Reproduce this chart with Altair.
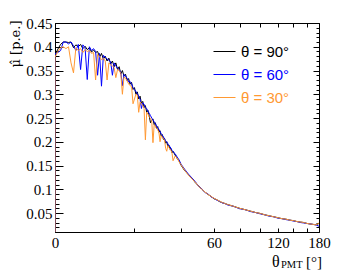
import altair as alt
import pandas as pd

# theta_PMT in degrees (first point: histogram left edge, drawn down to the axis)
theta_pmt = [0,
             0, 0.5, 1, 1.5, 2, 2.5, 3, 3.5,
             4, 4.5, 5, 5.5, 6, 6.5, 7, 7.5,
             8, 8.5, 9, 9.5, 10, 10.5, 11, 11.5,
             12, 12.5, 13, 13.5, 14, 14.5, 15, 15.5,
             16, 16.5, 17, 17.5, 18, 18.5, 19, 19.5,
             20, 20.5, 21, 21.5, 22, 22.5, 23, 23.5,
             24, 24.5, 25, 25.5, 26, 26.5, 27, 27.5,
             28, 28.5, 29, 29.5, 30, 30.5, 31, 31.5,
             32, 32.5, 33, 33.5, 34, 34.5, 35, 35.5,
             36,
             37, 38, 39, 40,
             42, 44, 46, 48, 50, 52, 54, 56, 58, 60, 62, 64, 66, 68, 70,
             75, 80, 85, 90, 95, 100, 105, 110, 115, 120, 125, 130, 135, 140, 145,
             150, 155, 160, 165, 170, 175, 180]

mu_90 = [0.0,
         0.382, 0.395, 0.405, 0.410, 0.410, 0.409, 0.410, 0.398,
         0.404, 0.400, 0.405, 0.396, 0.401, 0.394, 0.398, 0.389,
         0.393, 0.388, 0.390, 0.378, 0.386, 0.374, 0.380, 0.370,
         0.376, 0.364, 0.370, 0.358, 0.366, 0.352, 0.358, 0.343,
         0.350, 0.338, 0.342, 0.329, 0.333, 0.321, 0.325, 0.310,
         0.314, 0.300, 0.305, 0.290, 0.296, 0.281, 0.285, 0.272,
         0.276, 0.262, 0.266, 0.254, 0.240, 0.245, 0.248, 0.236,
         0.240, 0.228, 0.232, 0.220, 0.223, 0.212, 0.215, 0.205,
         0.207, 0.197, 0.200, 0.190, 0.193, 0.184, 0.186, 0.177,
         0.180,
         0.172, 0.165, 0.160, 0.151,
         0.139, 0.131, 0.123, 0.114, 0.107, 0.100, 0.094, 0.089, 0.085, 0.080, 0.078, 0.074,
         0.072, 0.070, 0.068,
         0.064, 0.060, 0.057, 0.054, 0.051, 0.049, 0.046, 0.044, 0.042, 0.040, 0.038, 0.037,
         0.035, 0.034, 0.032, 0.031, 0.030, 0.028, 0.027, 0.026, 0.025, 0.028]

mu_60 = [0.0,
         0.385, 0.388, 0.392, 0.410, 0.410, 0.406, 0.410, 0.402,
         0.392, 0.405, 0.352, 0.404, 0.398, 0.331, 0.400, 0.392,
         0.396, 0.390, 0.340, 0.386, 0.317, 0.382, 0.378, 0.374,
         0.372, 0.368, 0.340, 0.366, 0.360, 0.355, 0.352, 0.346,
         0.318, 0.342, 0.338, 0.334, 0.326, 0.327, 0.322, 0.314,
         0.310, 0.306, 0.301, 0.296, 0.290, 0.270, 0.282, 0.279,
         0.272, 0.270, 0.264, 0.260, 0.255, 0.250, 0.246, 0.242,
         0.238, 0.233, 0.229, 0.226, 0.222, 0.217, 0.214, 0.210,
         0.206, 0.202, 0.200, 0.196, 0.192, 0.190, 0.186, 0.182,
         0.179,
         0.175, 0.168, 0.162, 0.153,
         0.142, 0.132, 0.124, 0.116, 0.106, 0.101, 0.093, 0.090, 0.084, 0.081, 0.077, 0.075,
         0.071, 0.070, 0.067,
         0.064, 0.059, 0.057, 0.053, 0.051, 0.048, 0.046, 0.043, 0.042, 0.039, 0.038, 0.036,
         0.035, 0.033, 0.032, 0.030, 0.029, 0.028, 0.027, 0.026, 0.025, 0.022]

mu_30 = [0.0,
         0.378, 0.390, 0.398, 0.400, 0.396, 0.400, 0.366, 0.345,
         0.398, 0.392, 0.396, 0.388, 0.394, 0.390, 0.392, 0.386,
         0.388, 0.330, 0.384, 0.380, 0.372, 0.376, 0.370, 0.330,
         0.366, 0.362, 0.360, 0.356, 0.335, 0.352, 0.350, 0.344,
         0.300, 0.336, 0.334, 0.328, 0.322, 0.318, 0.316, 0.280,
         0.290, 0.300, 0.298, 0.262, 0.284, 0.280, 0.276, 0.270,
         0.204, 0.262, 0.258, 0.252, 0.250, 0.244, 0.198, 0.236,
         0.232, 0.228, 0.225, 0.220, 0.200, 0.213, 0.209, 0.206,
         0.204, 0.186, 0.180, 0.192, 0.188, 0.184, 0.182, 0.176,
         0.160,
         0.170, 0.166, 0.158, 0.152,
         0.140, 0.130, 0.122, 0.115, 0.106, 0.100, 0.094, 0.089, 0.085, 0.081, 0.078, 0.075,
         0.072, 0.070, 0.068,
         0.064, 0.060, 0.057, 0.054, 0.051, 0.049, 0.046, 0.044, 0.042, 0.040, 0.038, 0.037,
         0.035, 0.034, 0.032, 0.031, 0.030, 0.028, 0.027, 0.026, 0.025, 0.029]

series_names = ["θ = 90°", "θ = 60°", "θ = 30°"]
series_colors = ["#000000", "#0000ff", "#ff9933"]

x_ticks = [0, 20, 40, 60, 80, 100, 120, 140, 160, 180]
y_major = [0.05, 0.1, 0.15, 0.2, 0.25, 0.3, 0.35, 0.4, 0.45]
y_minor = [round(0.01 * k, 2) for k in range(1, 46)]

rows = []
for name, vals in zip(series_names, [mu_90, mu_60, mu_30]):
    assert len(vals) == len(theta_pmt), (name, len(vals), len(theta_pmt))
    for i, (t, m) in enumerate(zip(theta_pmt, vals)):
        rows.append({"theta": t, "mu": m, "series": name, "i": i})
df = pd.DataFrame(rows)

SERIF = "Liberation Serif"
SANS = "Liberation Sans"

xscale = alt.Scale(type="symlog", constant=20, domain=[0, 180], nice=False, zero=False)
yscale = alt.Scale(domain=[0.01, 0.45], nice=False, zero=False)

common_ax = dict(domain=False, grid=False, tickColor="black", tickWidth=1)

label_color_expr = ("datum.label == '" + series_names[0] + "' ? '" + series_colors[0] + "' : "
                    "datum.label == '" + series_names[1] + "' ? '" + series_colors[1] + "' : '"
                    + series_colors[2] + "'")

lines = alt.Chart(df).mark_line(strokeWidth=1, clip=True).encode(
    x=alt.X("theta:Q", scale=xscale,
            axis=alt.Axis(orient="bottom", offset=-4, tickSize=4, values=x_ticks,
                          labelExpr="datum.value % 60 == 0 ? datum.label : ''",
                          labelFont=SERIF, labelFontSize=15, labelColor="black",
                          labelPadding=3, labelFlush=False, title=None, **common_ax)),
    y=alt.Y("mu:Q", scale=yscale,
            axis=alt.Axis(orient="left", offset=-8, tickSize=8, values=y_major, format="~g",
                          labelFont=SERIF, labelFontSize=15, labelColor="black",
                          labelPadding=3, labelFlush=False,
                          title="μ̂ [p.e.]", titleFont="DejaVu Serif", titleFontSize=13,
                          titleFontWeight="normal", titleColor="black",
                          titleAngle=270, titleAlign="right", titleBaseline="middle",
                          titleX=-47.5, titleY=-3, **common_ax)),
    color=alt.Color("series:N", sort=series_names,
                    scale=alt.Scale(domain=series_names, range=series_colors),
                    legend=alt.Legend(orient="none", legendX=158, legendY=17, title=None,
                                      symbolType="stroke", symbolSize=484, symbolStrokeWidth=1,
                                      labelFont=SANS, labelFontSize=15, labelOffset=5,
                                      labelColor=alt.ExprRef(label_color_expr),
                                      rowPadding=3, padding=0)),
    order=alt.Order("i:Q"),
)

ghost = alt.Chart(df).mark_line(strokeOpacity=0)

minor_left = ghost.encode(
    x=alt.X("theta:Q", scale=xscale,
            axis=alt.Axis(orient="top", offset=-4, tickSize=4, values=x_ticks,
                          labels=False, title=None, **common_ax)),
    y=alt.Y("mu:Q", scale=yscale,
            axis=alt.Axis(orient="left", offset=-4, tickSize=4, values=y_minor,
                          labels=False, title=None, **common_ax)),
)
major_right = ghost.encode(
    x=alt.X("theta:Q", scale=xscale, axis=None),
    y=alt.Y("mu:Q", scale=yscale,
            axis=alt.Axis(orient="right", offset=-6, tickSize=6, values=y_major,
                          labels=False, title=None, **common_ax)),
)
minor_right = ghost.encode(
    x=alt.X("theta:Q", scale=xscale, axis=None),
    y=alt.Y("mu:Q", scale=yscale,
            axis=alt.Axis(orient="right", offset=-3, tickSize=3, values=y_minor,
                          labels=False, title=None, **common_ax)),
)

one = alt.Data(values=[{"k": 1}])
t_theta = alt.Chart(one).mark_text(text="θ", font=SERIF, fontSize=16, align="left",
                                   baseline="alphabetic", color="black").encode(
    x=alt.value(217), y=alt.value(244))
t_pmt = alt.Chart(one).mark_text(text="PMT", font=SERIF, fontSize=10.5, align="left",
                                 baseline="alphabetic", color="black").encode(
    x=alt.value(226), y=alt.value(245))
t_unit = alt.Chart(one).mark_text(text="[°]", font=SERIF, fontSize=15, align="left",
                                  baseline="alphabetic", color="black").encode(
    x=alt.value(251), y=alt.value(244))

chart = alt.layer(minor_left, major_right, minor_right, lines, t_theta, t_pmt, t_unit).resolve_axis(
    x="independent", y="independent"
).properties(
    width=264, height=209,
    autosize=alt.AutoSizeParams(type="none"),
    padding={"left": 47, "top": 15, "right": 20, "bottom": 40},
    background="white",
).configure_view(stroke="black", strokeWidth=1)

chart.save("out.html", embed_options={"renderer": "svg", "actions": False})
